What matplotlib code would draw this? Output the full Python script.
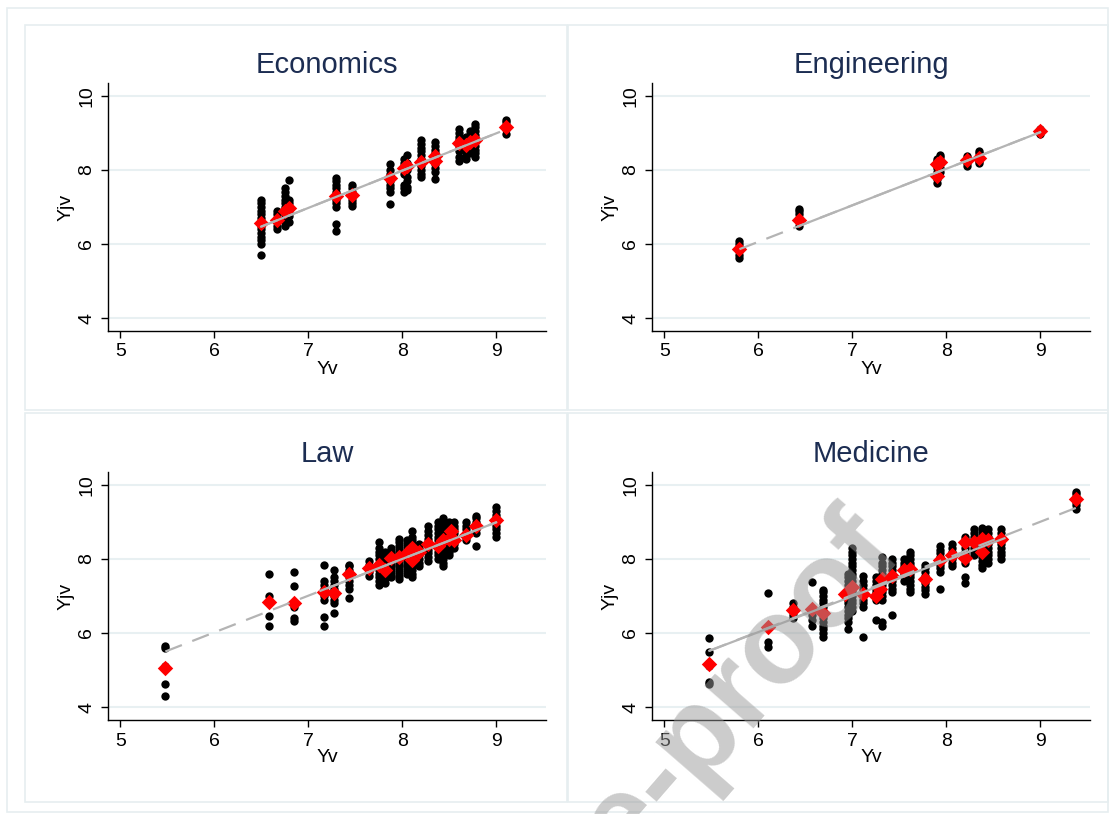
import matplotlib
matplotlib.use("Agg")
from matplotlib import pyplot as plt
from matplotlib.patches import Rectangle

plt.rcParams['font.family'] = ['Liberation Sans', 'DejaVu Sans']

# ---- Economics
econ_col_x = [6.50, 6.67, 6.75, 6.80, 7.30, 7.47, 7.87, 8.02, 8.05, 8.20, 8.35, 8.60, 8.68, 8.72, 8.77, 9.10]
econ_col_y = [
    [5.70, 6.00, 6.10, 6.20, 6.30, 6.40, 6.50, 6.60, 6.70, 6.80, 6.90, 7.00, 7.10, 7.20],
    [6.40, 6.50, 6.60, 6.70, 6.80, 6.90],
    [6.50, 6.60, 6.70, 6.80, 6.90, 7.00, 7.10, 7.20, 7.30, 7.40, 7.50],
    [6.60, 6.75, 6.90, 7.00, 7.10, 7.20, 7.72],
    [6.35, 6.55, 7.00, 7.10, 7.20, 7.30, 7.40, 7.50, 7.60, 7.70, 7.78],
    [7.02, 7.10, 7.20, 7.30, 7.40, 7.50, 7.60],
    [7.08, 7.40, 7.50, 7.60, 7.70, 7.80, 7.90, 8.00, 8.15],
    [7.40, 7.50, 7.60, 7.90, 8.00, 8.10, 8.20, 8.30],
    [7.45, 7.55, 7.70, 7.80, 8.00, 8.20, 8.40],
    [7.80, 7.90, 8.00, 8.10, 8.20, 8.30, 8.40, 8.50, 8.60, 8.70, 8.80],
    [7.75, 7.95, 8.05, 8.15, 8.25, 8.35, 8.45, 8.55, 8.65, 8.75],
    [8.25, 8.35, 8.50, 8.60, 8.70, 8.80, 8.90, 9.00, 9.10],
    [8.30, 8.40, 8.50, 8.60, 8.70, 8.80, 8.90],
    [8.45, 8.55, 8.65, 8.75, 8.85, 8.95, 9.05],
    [8.35, 8.45, 8.55, 8.65, 8.75, 8.85, 8.95, 9.05, 9.15, 9.25],
    [8.98, 9.10, 9.20, 9.30, 9.35],
]
econ_mean_x = [6.50, 6.67, 6.75, 6.80, 7.30, 7.47, 7.87, 8.02, 8.05, 8.20, 8.35, 8.35, 8.60, 8.68, 8.72, 8.77, 9.10]
econ_mean_y = [6.57, 6.65, 6.88, 6.98, 7.30, 7.32, 7.78, 8.05, 8.12, 8.22, 8.25, 8.38, 8.72, 8.68, 8.75, 8.82, 9.15]
econ_solid_x = [6.50, 9.03]
econ_solid_y = [6.47, 9.02]
econ_dash_x = [6.50, 9.03]
econ_dash_y = [6.47, 9.02]

# ---- Engineering
eng_col_x = [5.80, 6.43, 7.90, 7.93, 8.22, 8.35, 9.00]
eng_col_y = [
    [5.62, 5.70, 5.80, 5.90, 6.00, 6.08],
    [6.50, 6.60, 6.70, 6.80, 6.90, 6.95],
    [7.65, 7.75, 7.85, 7.95, 8.05, 8.15, 8.25, 8.30],
    [7.95, 8.05, 8.15, 8.25, 8.35, 8.40],
    [8.12, 8.20, 8.30, 8.38],
    [8.18, 8.25, 8.35, 8.45, 8.50],
    [8.98, 9.05, 9.10],
]
eng_mean_x = [5.80, 6.43, 7.90, 7.90, 7.93, 8.22, 8.35, 9.00]
eng_mean_y = [5.87, 6.65, 7.85, 8.15, 8.22, 8.28, 8.32, 9.05]
eng_solid_x = [6.43, 9.00]
eng_solid_y = [6.48, 9.02]
eng_dash_x = [5.80, 9.00]
eng_dash_y = [5.86, 9.02]

# ---- Law
law_col_x = [5.48, 6.58, 6.85, 7.17, 7.27, 7.43, 7.65, 7.75, 7.82, 7.88, 7.97, 8.05, 8.10,
             8.18, 8.27, 8.38, 8.43, 8.50, 8.55, 8.68, 8.78, 9.00]
law_col_y = [
    [4.29, 4.61, 5.06, 5.12, 5.60, 5.65],
    [6.18, 6.47, 7.01, 7.60],
    [6.33, 6.40, 6.70, 7.26, 7.66],
    [6.20, 6.42, 6.90, 7.00, 7.10, 7.20, 7.30, 7.40, 7.83],
    [6.55, 6.80, 6.90, 7.00, 7.10, 7.20, 7.30, 7.40, 7.50, 7.70],
    [6.95, 7.20, 7.30, 7.40, 7.50, 7.60, 7.70, 7.80, 7.85],
    [7.55, 7.65, 7.75, 7.85, 7.95],
    [7.30, 7.40, 7.50, 7.60, 7.70, 7.80, 7.90, 8.00, 8.10, 8.20, 8.30, 8.45],
    [7.35, 7.45, 7.55, 7.65, 7.75, 7.85, 7.95, 8.05, 8.20],
    [7.50, 7.60, 7.70, 7.80, 7.90, 8.00, 8.10, 8.20, 8.30],
    [7.45, 7.55, 7.65, 7.75, 7.85, 7.95, 8.05, 8.15, 8.25, 8.35, 8.45, 8.55],
    [7.60, 7.70, 7.80, 7.90, 8.00, 8.10, 8.20, 8.30, 8.40, 8.50],
    [7.50, 7.60, 7.70, 7.80, 7.90, 8.00, 8.10, 8.20, 8.30, 8.40, 8.50, 8.60, 8.75],
    [7.80, 7.90, 8.00, 8.10, 8.20, 8.30, 8.40],
    [7.95, 8.05, 8.15, 8.25, 8.35, 8.45, 8.55, 8.65, 8.75, 8.90],
    [8.00, 8.10, 8.20, 8.30, 8.40, 8.50, 8.60, 8.70, 8.80, 8.90, 9.00],
    [7.80, 7.90, 8.00, 8.10, 8.20, 8.30, 8.40, 8.50, 8.60, 8.70, 8.80, 8.90, 9.00, 9.10],
    [8.10, 8.20, 8.30, 8.40, 8.50, 8.60, 8.70, 8.80, 8.90, 9.00],
    [8.30, 8.40, 8.50, 8.60, 8.70, 8.80, 8.90, 9.00],
    [8.50, 8.60, 8.70, 8.80, 8.90, 9.00],
    [8.35, 8.70, 8.80, 8.90, 9.00, 9.10, 9.15],
    [8.60, 8.70, 8.80, 8.90, 9.00, 9.10, 9.20, 9.30, 9.40],
]
law_mean_x = [5.48, 6.58, 6.85, 7.17, 7.27, 7.43, 7.65, 7.75, 7.82, 7.88, 7.97, 8.05, 8.10, 8.10,
              8.18, 8.27, 8.38, 8.43, 8.50, 8.52, 8.55, 8.68, 8.78, 9.00]
law_mean_y = [5.05, 6.83, 6.80, 7.10, 7.08, 7.60, 7.75, 7.85, 7.70, 8.02, 8.05, 8.15, 8.30, 7.97,
              8.20, 8.40, 8.35, 8.50, 8.55, 8.75, 8.50, 8.65, 8.90, 9.05]
law_solid_x = [7.13, 9.00]
law_solid_y = [7.14, 8.99]
law_dash_x = [5.48, 9.00]
law_dash_y = [5.50, 8.99]

# ---- Medicine
med_col_x = [5.48, 6.10, 6.37, 6.57, 6.69, 6.95, 7.00, 7.12, 7.25, 7.32, 7.42, 7.55, 7.62,
             7.77, 7.93, 8.06, 8.20, 8.30, 8.38, 8.45, 8.58, 9.38]
med_col_y = [
    [4.62, 4.68, 5.10, 5.20, 5.50, 5.87],
    [5.62, 5.75, 7.08],
    [6.40, 6.50, 6.60, 6.70, 6.80],
    [6.20, 6.35, 6.50, 7.38],
    [5.90, 6.00, 6.10, 6.20, 6.30, 6.40, 6.50, 6.60, 6.70, 6.80, 6.90, 7.00, 7.10, 7.15],
    [6.10, 6.30, 6.40, 6.50, 6.60, 6.70, 6.80, 6.90, 7.00, 7.10, 7.20, 7.30, 7.40, 7.50, 7.60],
    [6.60, 6.70, 6.80, 6.90, 7.00, 7.10, 7.20, 7.30, 7.40, 7.50, 7.60, 7.70, 7.80, 7.90, 8.00,
     8.10, 8.20, 8.30],
    [5.90, 6.70, 6.80, 6.90, 7.00, 7.10, 7.20, 7.30, 7.40, 7.55],
    [6.35, 6.90, 7.00, 7.10, 7.20, 7.30, 7.40, 7.50],
    [6.20, 6.30, 6.90, 7.00, 7.10, 7.20, 7.30, 7.40, 7.50, 7.60, 7.70, 7.80, 7.90, 8.05],
    [6.50, 7.10, 7.20, 7.30, 7.40, 7.50, 7.60, 7.70, 7.80, 7.90, 8.00],
    [7.40, 7.50, 7.60, 7.70, 7.80, 7.90, 8.00],
    [7.10, 7.20, 7.30, 7.40, 7.50, 7.60, 7.70, 7.80, 7.90, 8.00, 8.10, 8.20],
    [7.05, 7.15, 7.25, 7.35, 7.45, 7.55, 7.65, 7.75, 7.85],
    [7.20, 7.65, 7.75, 7.85, 7.95, 8.05, 8.15, 8.25, 8.35],
    [7.80, 7.90, 8.00, 8.10, 8.20, 8.30, 8.40],
    [7.35, 7.50, 7.90, 8.00, 8.10, 8.20, 8.30, 8.40, 8.50, 8.60],
    [8.10, 8.20, 8.30, 8.40, 8.50, 8.60, 8.70, 8.80],
    [7.75, 7.85, 7.95, 8.05, 8.15, 8.25, 8.35, 8.45, 8.55, 8.65, 8.75, 8.85],
    [7.90, 8.00, 8.10, 8.20, 8.30, 8.40, 8.50, 8.60, 8.70, 8.80],
    [8.00, 8.10, 8.20, 8.30, 8.40, 8.50, 8.60, 8.70, 8.80],
    [9.35, 9.45, 9.55, 9.65, 9.75, 9.80],
]
med_mean_x = [5.48, 6.10, 6.37, 6.57, 6.69, 6.92, 7.00, 7.12, 7.25, 7.30, 7.32, 7.42, 7.55, 7.62,
              7.77, 7.93, 8.06, 8.20, 8.20, 8.30, 8.38, 8.38, 8.45, 8.58, 9.38]
med_mean_y = [5.15, 6.17, 6.62, 6.65, 6.55, 7.05, 7.25, 7.05, 7.00, 7.20, 7.45, 7.55, 7.70, 7.72,
              7.45, 7.97, 8.10, 8.45, 8.02, 8.45, 8.20, 8.55, 8.50, 8.55, 9.62]
med_solid_x = [5.48, 8.62]
med_solid_y = [5.52, 8.56]
med_dash_x = [5.48, 9.38]
med_dash_y = [5.52, 9.38]

W, H = 1115, 814
navy = '#1c2d52'
grid_c = '#e8f0f2'
line_c = '#b4b4b4'


def draw_panel(ax, title, col_x, col_y, mean_x, mean_y, sx, sy, dx, dy):
    for x, ys in zip(col_x, col_y):
        ax.scatter([x] * len(ys), ys, s=36, color='black', linewidths=0, zorder=3)
    ax.scatter(mean_x, mean_y, s=62, marker='D', color='red', linewidths=0, zorder=4)
    ax.plot(dx, dy, color=line_c, lw=1.6, ls=(0, (8, 5)), zorder=5)
    ax.plot(sx, sy, color=line_c, lw=1.6, zorder=5)
    ax.set_xlim(4.87, 9.53)
    ax.set_ylim(3.65, 10.35)
    ax.set_xticks([5, 6, 7, 8, 9])
    ax.set_yticks([4, 6, 8, 10])
    for v in [4, 6, 8, 10]:
        ax.axhline(v, color=grid_c, lw=1.5, zorder=1)
    ax.spines['top'].set_visible(False)
    ax.spines['right'].set_visible(False)
    ax.spines['left'].set_linewidth(1.0)
    ax.spines['bottom'].set_linewidth(1.0)
    ax.tick_params(direction='out', length=5, width=1.0, labelsize=14, pad=4)
    plt.setp(ax.get_yticklabels(), rotation=90, va='center')
    ax.set_xlabel('Yv', fontsize=14, labelpad=0)
    ax.set_ylabel('Yjv', fontsize=14, labelpad=3)
    ax.set_title(title, fontsize=21, color=navy, pad=7)


fig = plt.figure(figsize=(W / 100, H / 100), dpi=100)
fig.patch.set_facecolor('white')


def box(x0, y0, x1, y1):
    # pixel box, y measured from top
    fig.add_artist(Rectangle((x0 / W, 1 - y1 / H), (x1 - x0) / W, (y1 - y0) / H,
                             transform=fig.transFigure, fill=False,
                             edgecolor='#e6eef0', lw=1.2))


box(7, 8, 1108, 812)
box(25, 25, 567, 410)
box(568, 25, 1108, 410)
box(25, 413, 567, 802)
box(568, 413, 1108, 802)

aw, ah = 438 / W, 248 / H
ax1 = fig.add_axes([108 / W, 1 - 331 / H, aw, ah])
ax2 = fig.add_axes([652 / W, 1 - 331 / H, aw, ah])
ax3 = fig.add_axes([108 / W, 1 - 720 / H, aw, ah])
ax4 = fig.add_axes([652 / W, 1 - 720 / H, aw, ah])

draw_panel(ax1, 'Economics', econ_col_x, econ_col_y, econ_mean_x, econ_mean_y,
           econ_solid_x, econ_solid_y, econ_dash_x, econ_dash_y)
draw_panel(ax2, 'Engineering', eng_col_x, eng_col_y, eng_mean_x, eng_mean_y,
           eng_solid_x, eng_solid_y, eng_dash_x, eng_dash_y)
draw_panel(ax3, 'Law', law_col_x, law_col_y, law_mean_x, law_mean_y,
           law_solid_x, law_solid_y, law_dash_x, law_dash_y)
draw_panel(ax4, 'Medicine', med_col_x, med_col_y, med_mean_x, med_mean_y,
           med_solid_x, med_solid_y, med_dash_x, med_dash_y)

# watermark, mostly cut by the lower edge
fig.text(905 / W, 1 - 555 / H, 'Journal Pre-proof', fontsize=88, fontweight='bold',
         color='#999999', alpha=0.5, rotation=49, rotation_mode='anchor',
         ha='right', va='baseline', zorder=10)

fig.savefig('out.png', dpi=100)
